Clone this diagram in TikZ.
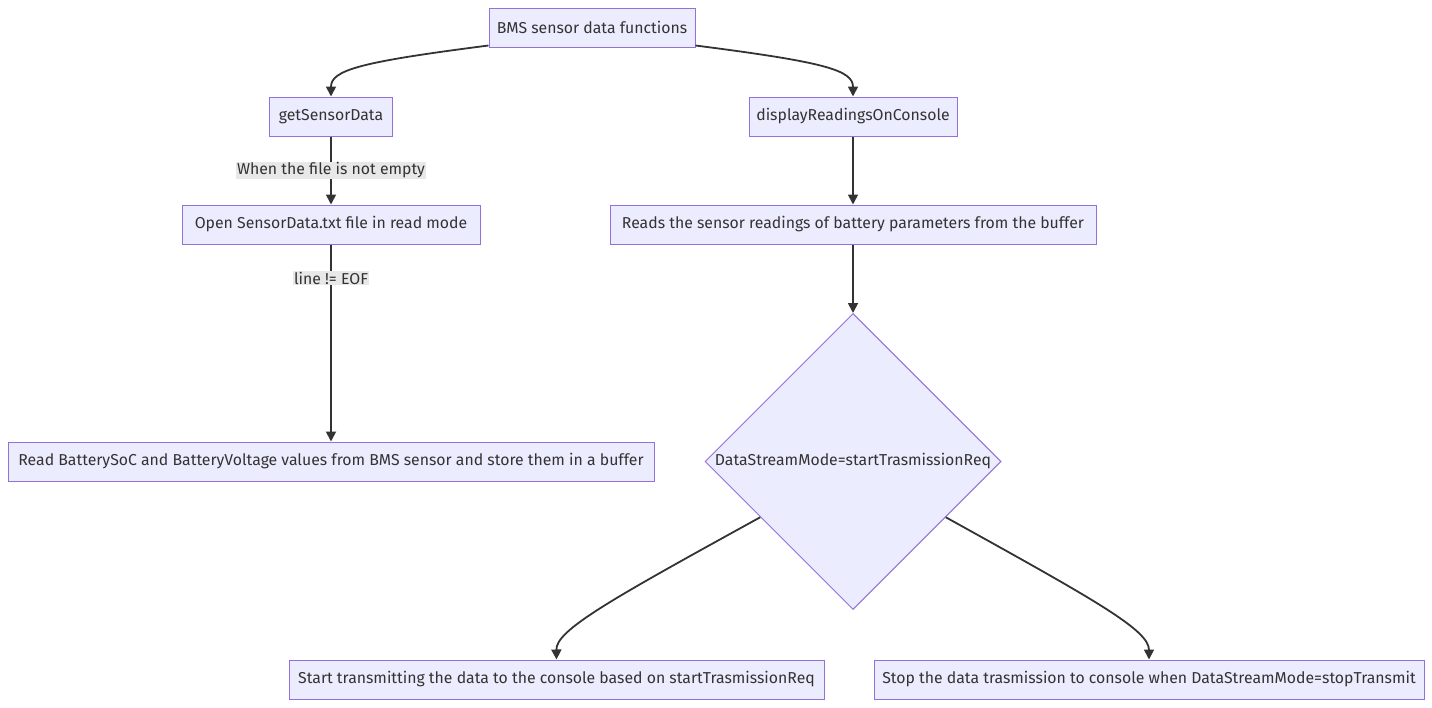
\documentclass[tikz,border=0pt]{standalone}
\usepackage{fontspec}
\setmainfont{Fira Sans}
\usetikzlibrary{shapes.geometric,arrows.meta,calc}
\definecolor{nodefill}{HTML}{ECECFF}
\definecolor{nodeline}{HTML}{9370DB}
\definecolor{edgeline}{HTML}{333333}
\definecolor{labelbg}{HTML}{E8E8E8}
\definecolor{txt}{HTML}{333333}
\begin{document}
\begin{tikzpicture}[x=1pt,y=-1pt,
  every node/.style={font=\fontsize{15.8}{19}\selectfont, text=txt},
  box/.style={draw=nodeline, fill=nodefill, line width=1pt, inner sep=0pt, minimum height=39pt},
  decision/.style={draw=nodeline, fill=nodefill, line width=1pt, diamond, aspect=1, inner sep=0pt, minimum width=296pt, minimum height=296pt},
  conn/.style={draw=edgeline, line width=1.8pt, -{Triangle[length=10pt,width=10pt]}},
  elabel/.style={fill=labelbg, inner sep=1pt}
]
\useasboundingbox (0,0) rectangle (1432,707);
\node[box, minimum width=206pt] (bms) at (592,27.5) {BMS sensor data functions};
\node[box, minimum width=123pt] (gsd) at (331,116.5) {getSensorData};
\node[box, minimum width=208pt] (disp) at (853,116.5) {displayReadingsOnConsole};
\node[box, minimum width=298pt] (open) at (331,224.5) {Open SensorData.txt file in read mode};
\node[box, minimum width=486pt] (reads) at (853,224.5) {Reads the sensor readings of battery parameters from the buffer};
\node[box, minimum width=646pt] (readbat) at (331,461.5) {Read BatterySoC and BatteryVoltage values from BMS sensor and store them in a buffer};
\node[decision] (dia) at (853,461.5) {DataStreamMode=startTrasmissionReq};
\node[box, minimum width=535pt] (start) at (556.5,679.5) {Start transmitting the data to the console based on startTrasmissionReq};
\node[box, minimum width=550pt] (stop) at (1149,679.5) {Stop the data trasmission to console when DataStreamMode=stopTransmit};

\coordinate (bmsL) at ($(bms.south west)+(0,-2)$);
\coordinate (bmsR) at ($(bms.south east)+(0,-2)$);
\draw[conn] (bmsL) .. controls (360,62) and (331,70) .. (gsd.north);
\draw[conn] (bmsR) .. controls (824,62) and (853,70) .. (disp.north);
\draw[conn] (gsd.south) -- node[elabel]{When the file is not empty} (open.north);
\draw[conn] (open.south) -- node[elabel, pos=0.17]{line != EOF} (readbat.north);
\draw[conn] (disp.south) -- (reads.north);
\draw[conn] (reads.south) -- (dia.north);
\draw[conn] (dia.211) .. controls (610,600) and (556,630) .. (start.north);
\draw[conn] (dia.329) .. controls (1095,600) and (1149,630) .. (stop.north);
\end{tikzpicture}
\end{document}
